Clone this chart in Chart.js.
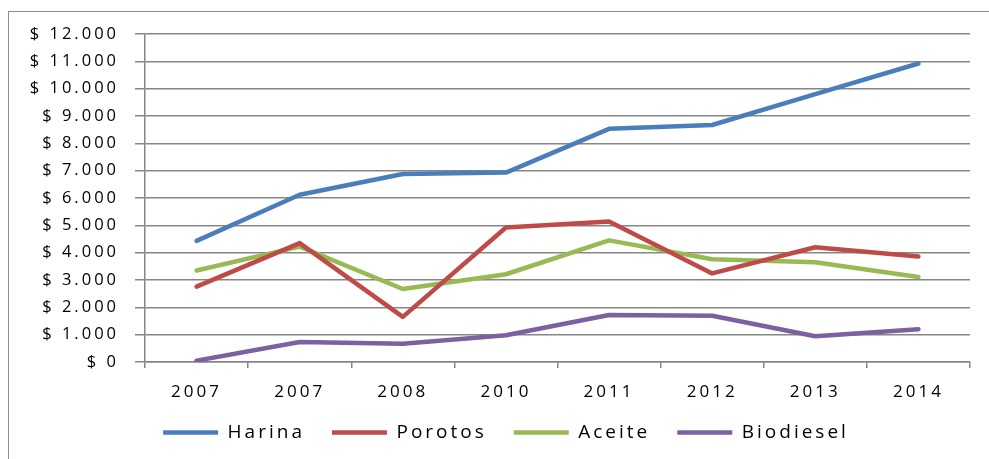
<!DOCTYPE html>
<html>
<head>
<meta charset="utf-8">
<script src="https://cdn.jsdelivr.net/npm/chart.js@4"></script>
<style>
  html, body { margin: 0; padding: 0; background: #fff; }
  #wrap { position: relative; width: 989px; height: 459px; overflow: hidden; }
  #marco { position: absolute; left: 8px; top: 11px; width: 1000px; height: 470px; border: 1px solid #8c8c8c; box-sizing: border-box; }
  canvas { position: absolute; left: 0; top: 0; }
</style>
</head>
<body>
<div id="wrap">
  <div id="marco"></div>
  <canvas id="grafico" width="989" height="459"></canvas>
</div>
<script>
// Datos
const anios = ["2007", "2007", "2008", "2010", "2011", "2012", "2013", "2014"];
const harina = [4430, 6120, 6880, 6930, 8530, 8670, 9800, 10920];
const porotos = [2760, 4350, 1650, 4920, 5140, 3240, 4200, 3860];
const aceite = [3350, 4220, 2670, 3210, 4450, 3760, 3650, 3110];
const biodiesel = [50, 730, 670, 980, 1720, 1690, 940, 1200];

const fuente = "'Open Sans', 'DejaVu Sans', sans-serif";

function serie(nombre, datos, color) {
    return {
        label: nombre,
        data: datos,
        borderColor: color,
        backgroundColor: color,
        borderWidth: 4.5,
        borderCapStyle: "round",
        borderJoinStyle: "round",
        pointRadius: 0,
        tension: 0,
        fill: false
    };
}

// espaciado de letras parecido al original, y etiquetas sin recorte
const espaciado = {
    id: "espaciado",
    beforeLayout(chart) { chart.ctx.letterSpacing = "3px"; },
    beforeDraw(chart) {
        chart.ctx.letterSpacing = "3px";
        Object.values(chart.scales).forEach((s) => { s._computeLabelArea = () => undefined; });
    }
};

new Chart(document.getElementById("grafico"), {
    type: "line",
    data: {
        labels: anios,
        datasets: [
            serie("Harina", harina, "#4a7ebb"),
            serie("Porotos", porotos, "#be4b48"),
            serie("Aceite", aceite, "#98b954"),
            serie("Biodiesel", biodiesel, "#7d60a0")
        ]
    },
    plugins: [espaciado],
    options: {
        responsive: false,
        animation: false,
        layout: { padding: { top: 34, right: 19, left: 42, bottom: 7 } },
        plugins: {
            tooltip: { enabled: false },
            legend: {
                position: "bottom",
                labels: {
                    usePointStyle: true,
                    pointStyle: "line",
                    pointStyleWidth: 55,
                    padding: 27,
                    color: "#000",
                    font: { family: fuente, size: 19 }
                }
            }
        },
        scales: {
            x: {
                offset: true,
                afterFit: (escala) => { escala.height = 34; },
                grid: {
                    offset: true,
                    drawOnChartArea: false,
                    drawTicks: true,
                    tickLength: 6,
                    color: "#868686",
                    lineWidth: 1.5
                },
                border: { color: "#868686", width: 1.5 },
                ticks: {
                    color: "#000",
                    padding: 14,
                    maxRotation: 0,
                    font: { family: fuente, size: 17 }
                }
            },
            y: {
                min: 0,
                max: 12000,
                afterFit: (escala) => { escala.width = 103; },
                grid: {
                    color: "#868686",
                    lineWidth: 1.5,
                    tickLength: 10
                },
                border: { color: "#868686", width: 1.5 },
                ticks: {
                    stepSize: 1000,
                    color: "#000",
                    padding: 16,
                    font: { family: fuente, size: 16.5 },
                    callback: (v) => "$ " + v.toLocaleString("de-DE")
                }
            }
        }
    }
});
</script>
</body>
</html>
